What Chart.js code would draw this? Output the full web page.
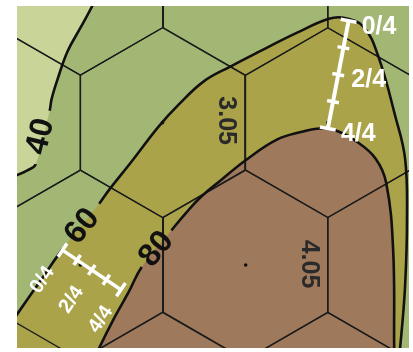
<!DOCTYPE html>
<html>
<head>
<meta charset="utf-8">
<script src="https://cdn.jsdelivr.net/npm/chart.js@4.4.1/dist/chart.umd.min.js"></script>
<style>
html, body { margin: 0; padding: 0; background: #fff; }
#wrap { width: 413px; height: 352px; }
</style>
</head>
<body>
<div id="wrap"><canvas id="map"></canvas></div>
<script>
// contour lines (x to the right, y downward)
var contour40 = [[100,-10],[93,6],[80,30],[68,52],[58,80],[52,100],[50,112],[36,166],[28,172],[17,177],[4,181]];
var contour60 = [[4,337],[17,318],[40,285],[63,252],[100,206],[110,192],[133,163],[160,128],[180,106],[206,82],[233,67],[260,53],[300,33],[332,19],[347,18],[367,27],[382,57],[399,117],[409,160],[411,220],[409,290],[404,352],[402,366]];
var contour80 = [[94,366],[100,352],[115,322],[130,295],[143,270],[173,233],[188,215],[203,199],[222,183],[248,162],[280,141],[306,133],[322,130],[339,132],[360,143],[379,160],[390,185],[397,253],[398,352],[398,366]];
// segment left open under each contour label
var gap40 = 6, gap60 = 3, gap80 = 4;

var contourLabels = ['40', '60', '80'];
var contourLabelX = [41, 83, 158];
var contourLabelY = [138, 229, 252];
var contourLabelAngle = [-76, -51, -51];

// hex grid
var hexX = [81, 248, 414, -2, 164, 331, 81, 248, 414, 164, 331];
var hexY = [-20, -20, -20, 124, 124, 124, 268, 268, 268, 412, 412];
var dotX = [164, 331, 81, 248];
var dotY = [124, 124, 268, 268];

var cellValues = ['3.05', '4.05'];
var cellX = [228, 312];
var cellY = [122, 267];

// scale bars
var barStartX = [352, 63], barStartY = [21, 253];
var barEndX = [331, 122], barEndY = [130, 293];
var barSteps = [0, 0.25, 0.5, 0.75, 1];
var barTicks = ['0/4', '', '2/4', '', '4/4'];

var HEX_R = 96;
var LIGHT = '#c8d498', GREEN = '#a3b775', OLIVE = '#aaa34a', BROWN = '#9e795b';

function pts(list) {
  return list.map(function (p) { return { x: p[0], y: p[1] }; });
}

function area(list, corners, color, order) {
  return {
    data: pts(list.concat(corners)),
    showLine: true, fill: 'shape', backgroundColor: color,
    borderWidth: 0, pointRadius: 0, tension: 0.4, clip: 0, order: order
  };
}

function contourLine(list, gap) {
  return {
    data: pts(list),
    showLine: true, fill: false, borderColor: '#111', borderWidth: 2.6,
    pointRadius: 0, tension: 0.4, clip: 0, order: 1,
    segment: {
      borderColor: function (ctx) { return ctx.p0DataIndex === gap ? 'rgba(0,0,0,0)' : '#111'; }
    }
  };
}

var datasets = [];
datasets.push(area([[-60,-60],[480,-60],[480,420],[-60,420]], [], LIGHT, 20));
datasets.push(area(contour40, [[-60,200],[-60,420],[470,420],[470,-60],[110,-60]], GREEN, 19));
datasets.push(area(contour60, [[402,420],[-60,420],[-60,340]], OLIVE, 18));
datasets.push(area(contour80, [[398,420],[90,420]], BROWN, 17));

for (var i = 0; i < hexX.length; i++) {
  var corners = [];
  for (var k = 0; k <= 6; k++) {
    var a = (-90 + 60 * k) * Math.PI / 180;
    corners.push([hexX[i] + HEX_R * Math.cos(a), hexY[i] + HEX_R * Math.sin(a)]);
  }
  datasets.push({
    data: pts(corners), showLine: true, fill: false,
    borderColor: '#1c1c1c', borderWidth: 1.3, pointRadius: 0,
    tension: 0, clip: 0, order: 5
  });
}

datasets.push(contourLine(contour40, gap40));
datasets.push(contourLine(contour60, gap60));
datasets.push(contourLine(contour80, gap80));

datasets.push({
  data: dotX.map(function (x, j) { return { x: x, y: dotY[j] }; }),
  showLine: false, pointRadius: 1.8, backgroundColor: '#111', borderWidth: 0, order: 0
});

function rotText(ctx, text, x, y, deg, font, color) {
  ctx.save();
  ctx.translate(x, y);
  ctx.rotate(deg * Math.PI / 180);
  ctx.font = font;
  ctx.fillStyle = color;
  ctx.textAlign = 'center';
  ctx.textBaseline = 'middle';
  ctx.fillText(text, 0, 0);
  ctx.restore();
}

var labelPlugin = {
  id: 'mapLabels',
  afterDatasetsDraw: function (chart) {
    var ctx = chart.ctx, sx = chart.scales.x, sy = chart.scales.y;
    ctx.save();
    ctx.beginPath();
    ctx.rect(chart.chartArea.left, chart.chartArea.top,
      chart.chartArea.right - chart.chartArea.left, chart.chartArea.bottom - chart.chartArea.top);
    ctx.clip();

    cellValues.forEach(function (t, j) {
      rotText(ctx, t, sx.getPixelForValue(cellX[j]), sy.getPixelForValue(cellY[j]), 90,
        'bold 25px "Liberation Sans"', '#2a2a2a');
    });
    contourLabels.forEach(function (t, j) {
      rotText(ctx, t, sx.getPixelForValue(contourLabelX[j]), sy.getPixelForValue(contourLabelY[j]),
        contourLabelAngle[j], 'bold 32px "Liberation Sans"', '#111');
    });

    // scale bars with quarter ticks
    var shift = [31, -36], angle = [0, -56], fsize = [25, 20], bw = [4, 3.5];
    for (var b = 0; b < barStartX.length; b++) {
      var x0 = sx.getPixelForValue(barStartX[b]), y0 = sy.getPixelForValue(barStartY[b]);
      var x1 = sx.getPixelForValue(barEndX[b]), y1 = sy.getPixelForValue(barEndY[b]);
      var len = Math.hypot(x1 - x0, y1 - y0);
      var dx = (x1 - x0) / len, dy = (y1 - y0) / len;
      var px = dy, py = -dx;
      ctx.strokeStyle = '#fff';
      ctx.lineCap = 'butt';
      ctx.lineWidth = bw[b];
      ctx.beginPath();
      ctx.moveTo(x0, y0);
      ctx.lineTo(x1, y1);
      ctx.stroke();
      barSteps.forEach(function (f, j) {
        var cx = x0 + (x1 - x0) * f, cy = y0 + (y1 - y0) * f;
        var h = (f === 0 || f === 1) ? 8 : 6;
        ctx.lineWidth = 3.5;
        ctx.beginPath();
        ctx.moveTo(cx - px * h, cy - py * h);
        ctx.lineTo(cx + px * h, cy + py * h);
        ctx.stroke();
        if (barTicks[j]) {
          rotText(ctx, barTicks[j], cx + px * shift[b], cy + py * shift[b], angle[b],
            'bold ' + fsize[b] + 'px "Liberation Sans"', '#fff');
        }
      });
    }
    ctx.restore();
  }
};

new Chart(document.getElementById('map'), {
  type: 'scatter',
  data: { datasets: datasets },
  options: {
    animation: false,
    responsive: true,
    maintainAspectRatio: false,
    devicePixelRatio: 1,
    events: [],
    layout: { padding: { left: 17, top: 6, right: 0, bottom: 0 } },
    scales: {
      x: { type: 'linear', min: 17, max: 413, display: false },
      y: { type: 'linear', min: 6, max: 352, reverse: true, display: false }
    },
    elements: { line: { capBezierPoints: false } },
    plugins: { legend: { display: false }, tooltip: { enabled: false } }
  },
  plugins: [labelPlugin]
});
</script>
</body>
</html>
